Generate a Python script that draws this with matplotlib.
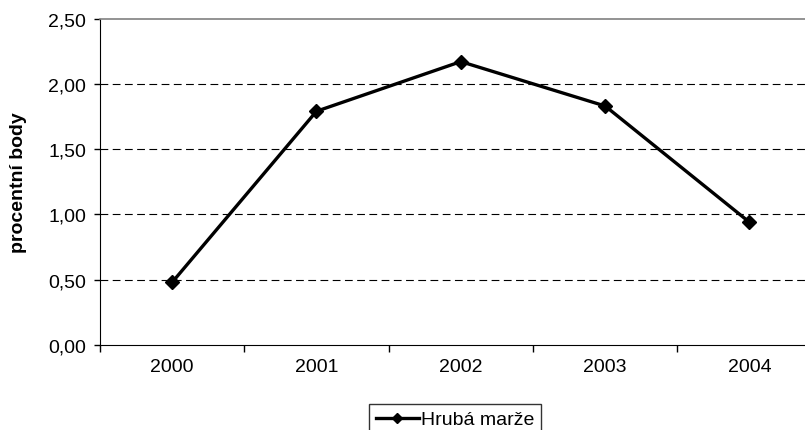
import matplotlib
matplotlib.use("Agg")
import matplotlib.pyplot as plt
from matplotlib.ticker import FuncFormatter

plt.rcParams["font.family"] = ["Liberation Sans", "DejaVu Sans"]

years = ["2000", "2001", "2002", "2003", "2004"]
gross_margin = [0.48, 1.79, 2.17, 1.83, 0.94]
series_label = "Hrubá marže"
y_label = "procentní body"

fig = plt.figure(figsize=(8.05, 4.31), dpi=100)
ax = fig.add_axes([0.1242, 0.1972, 0.8965, 0.7575])

x = [i + 0.5 for i in range(len(years))]
ax.plot(x, gross_margin, color="black", linewidth=2.4, marker="D",
        markersize=7, label=series_label, zorder=3)

ax.set_xlim(0, len(years))
ax.set_ylim(0, 2.5)
ax.set_yticks([0, 0.5, 1.0, 1.5, 2.0, 2.5])
ax.yaxis.set_major_formatter(FuncFormatter(lambda v, _: f"{v:.2f}".replace(".", ",")))

ax.set_xticks(range(len(years) + 1))
ax.set_xticklabels([])
ax.set_xticks(x, minor=True)
ax.set_xticklabels(years, minor=True)
ax.tick_params(axis="x", which="major", direction="out", length=5, width=1, color="black")
ax.tick_params(axis="x", which="minor", length=0, pad=9, labelsize=14)
ax.tick_params(axis="y", direction="out", length=4, width=1, pad=6, labelsize=14)

for v in [0.5, 1.0, 1.5, 2.0]:
    ax.axhline(v, color="black", linewidth=0.8, linestyle=(0, (7, 4)), zorder=1)

ax.spines["right"].set_visible(False)
ax.spines["top"].set_color("#808080")
ax.spines["top"].set_linewidth(1.2)
ax.spines["left"].set_color("black")
ax.spines["bottom"].set_color("black")

ax.set_ylabel(y_label, fontsize=14, fontweight="bold")
ax.yaxis.set_label_coords(-0.101, 0.5)

leg = fig.legend(loc="upper center", bbox_to_anchor=(455 / 805, 1 - 405 / 431),
                 fontsize=14, frameon=True, fancybox=False, handlelength=2.2,
                 handletextpad=0.1, borderpad=0.35, borderaxespad=0,
                 markerscale=0.75)
leg.get_frame().set_edgecolor("black")
leg.get_frame().set_linewidth(1)

fig.savefig("out.png", dpi=100)
